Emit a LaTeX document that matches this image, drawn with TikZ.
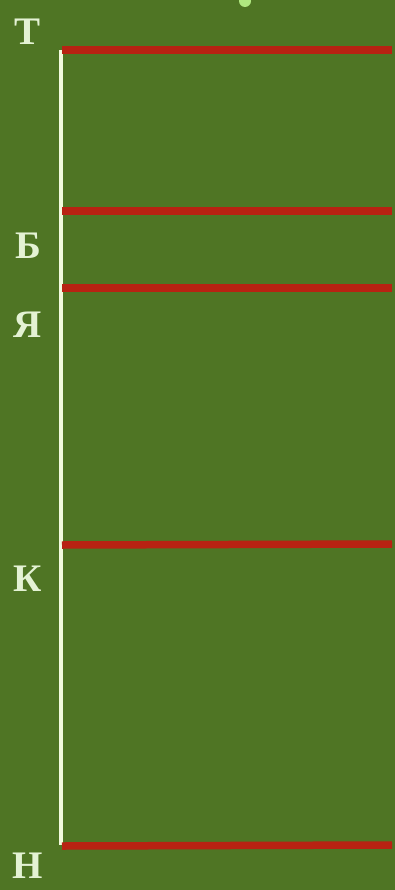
\documentclass[tikz,border=0pt]{standalone}
\usepackage{fontspec}
\setmainfont{Liberation Serif}
\definecolor{bgGreen}{RGB}{79,117,36}
\definecolor{lineRed}{RGB}{184,34,18}
\definecolor{axisCream}{RGB}{242,250,222}
\definecolor{textCream}{RGB}{228,242,212}
\definecolor{dotGreen}{RGB}{176,232,128}
\tikzset{
  lbl/.style={text=textCream, font=\bfseries\fontsize{39}{39}\selectfont, inner sep=0pt, anchor=center},
  redline/.style={draw=lineRed, line width=7.5pt},
  axisline/.style={draw=axisCream, line width=3.5pt}
}
\begin{document}
\begin{tikzpicture}[x=1pt,y=-1pt]
  \fill[bgGreen] (0,0) rectangle (395,890);
  \useasboundingbox (0,0) rectangle (395,890);
  \fill[dotGreen] (245,1) circle (6);
  % axis
  \coordinate (axTop) at (61,50);
  \coordinate (axBot) at (61,845);
  \draw[axisline] (axTop) -- (axBot);
  % red levels
  \coordinate (r1a) at (62,50);  \coordinate (r1b) at (392,50);
  \coordinate (r2a) at (62,211); \coordinate (r2b) at (392,211);
  \coordinate (r3a) at (62,288); \coordinate (r3b) at (392,288);
  \coordinate (r4a) at (62,545); \coordinate (r4b) at (392,544);
  \coordinate (r5a) at (62,846); \coordinate (r5b) at (392,845);
  \draw[redline] (r1a) -- (r1b);
  \draw[redline] (r2a) -- (r2b);
  \draw[redline] (r3a) -- (r3b);
  \draw[redline] (r4a) -- (r4b);
  \draw[redline] (r5a) -- (r5b);
  % labels
  \node[lbl] (lT) at (28,32) {Т};
  \node[lbl] (lB) at (28,246) {Б};
  \node[lbl] (lYa) at (28,325) {Я};
  \node[lbl] (lK) at (28,579) {К};
  \node[lbl] (lN) at (28,866) {Н};
\end{tikzpicture}
\end{document}
